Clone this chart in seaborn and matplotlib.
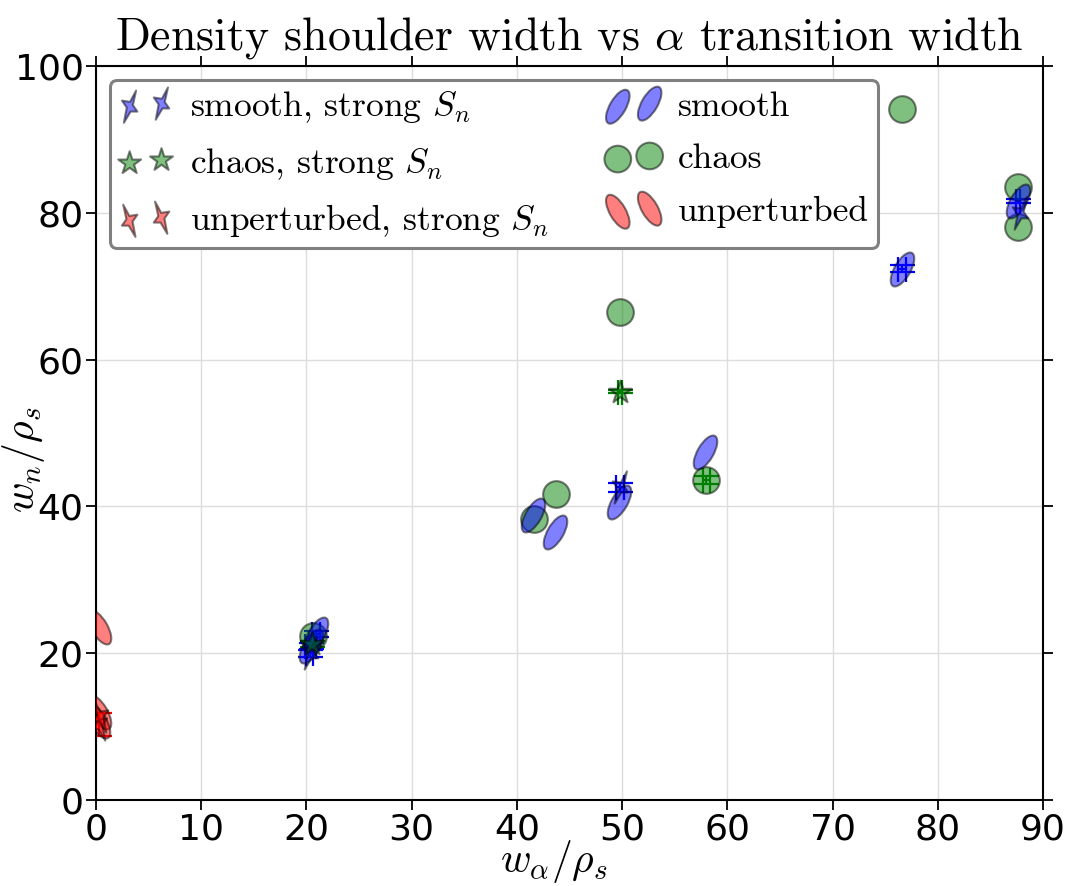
import numpy as np
import matplotlib
matplotlib.use("Agg")
import matplotlib.pyplot as plt
import matplotlib.path as mpath
import matplotlib.transforms as mtrans
import seaborn as sns

# ---- data: widths in units of rho_s (error 0 = no error bar) ----
smooth_x = [20.4, 20.9, 41.5, 43.6, 49.7, 57.9, 76.6, 87.6]
smooth_y = [21.0, 22.6, 38.8, 36.5, 40.6, 47.4, 72.4, 81.6]
smooth_xerr = [0.5, 0.4, 0.0, 0.0, 0.0, 0.0, 0.35, 0.2]
smooth_yerr = [0.4, 0.4, 0.0, 0.0, 0.0, 0.0, 0.5, 0.3]

chaos_x = [20.6, 41.6, 43.7, 49.8, 58.0, 76.6, 87.6, 87.6]
chaos_y = [22.3, 38.3, 41.7, 66.5, 43.6, 94.1, 83.5, 78.1]
chaos_xerr = [0.0, 0.0, 0.0, 0.0, 0.35, 0.0, 0.0, 0.0]
chaos_yerr = [0.0, 0.0, 0.0, 0.0, 0.55, 0.0, 0.0, 0.0]

unpert_x = [0.3, 0.3, 0.2]
unpert_y = [23.6, 12.0, 10.8]

smooth_strong_x = [20.3, 49.8, 87.8]
smooth_strong_y = [20.0, 42.6, 80.0]
smooth_strong_xerr = [0.3, 0.4, 0.0]
smooth_strong_yerr = [0.5, 0.6, 0.0]

chaos_strong_x = [20.5, 49.8]
chaos_strong_y = [21.3, 55.6]
chaos_strong_xerr = [0.3, 0.2]
chaos_strong_yerr = [0.4, 0.2]

unpert_strong_x = [0.3, 0.4]
unpert_strong_y = [10.3, 11.5]
unpert_strong_xerr = [0.0, 0.0]
unpert_strong_yerr = [1.6, 0.0]

xticks = [0, 10, 20, 30, 40, 50, 60, 70, 80, 90]
yticks = [0, 20, 40, 60, 80, 100]

BLUE, GREEN, RED = "#0000ff", "#008000", "#ff0000"

# ---- style ----
sns.set_theme(style="whitegrid")
plt.rcParams.update({
    "font.family": ["DejaVu Sans"],
    "mathtext.fontset": "cm",
    "text.color": "black",
    "axes.labelcolor": "black",
    "xtick.color": "black",
    "ytick.color": "black",
    "axes.edgecolor": "black",
    "axes.linewidth": 1.5,
    "grid.color": "#dddddd",
    "grid.linewidth": 1.0,
})


def ellipse_marker(angle):
    t = mtrans.Affine2D().scale(0.42, 1.0).rotate_deg(angle)
    return t.transform_path(mpath.Path.unit_circle())


def bolt_marker(mirror=False):
    v = np.array([(0.40, 1.0), (0.02, 0.30), (-0.48, 0.38), (-0.18, -0.05),
                  (-0.36, -1.0), (0.06, -0.30), (0.48, -0.30), (0.20, 0.10),
                  (0.40, 1.0)])
    if mirror:
        v[:, 0] *= -1
    codes = [mpath.Path.MOVETO] + [mpath.Path.LINETO] * (len(v) - 2) + [mpath.Path.CLOSEPOLY]
    return mpath.Path(v, codes)


def draw_errors(ax, x, y, xerr, yerr, color):
    """Error bars with caps, skipping components that are zero."""
    x, y, xerr, yerr = map(np.asarray, (x, y, xerr, yerr))
    kw = dict(fmt="none", ecolor=color, elinewidth=1.6, capsize=9, capthick=1.6, zorder=2.5)
    mx = xerr > 0
    if mx.any():
        ax.errorbar(x[mx], y[mx], xerr=xerr[mx], **kw)
    my = yerr > 0
    if my.any():
        ax.errorbar(x[my], y[my], yerr=yerr[my], **kw)


ell_smooth = ellipse_marker(-30)
ell_unpert = ellipse_marker(30)
bolt_smooth = bolt_marker(False)
bolt_unpert = bolt_marker(True)

fig = plt.figure(figsize=(10.74, 8.86), dpi=100)
ax = fig.add_axes([0.0894, 0.0971, 0.8817, 0.8284])

S_ELL, S_CIR, S_BOLT, S_STAR = 640, 370, 540, 300
common = dict(alpha=0.5, edgecolor="black", linewidth=1.5, ax=ax, legend=False)

# error bars
draw_errors(ax, chaos_x, chaos_y, chaos_xerr, chaos_yerr, GREEN)
draw_errors(ax, smooth_x, smooth_y, smooth_xerr, smooth_yerr, BLUE)
draw_errors(ax, smooth_strong_x, smooth_strong_y, smooth_strong_xerr, smooth_strong_yerr, BLUE)
draw_errors(ax, chaos_strong_x, chaos_strong_y, chaos_strong_xerr, chaos_strong_yerr, GREEN)
draw_errors(ax, unpert_strong_x, unpert_strong_y, unpert_strong_xerr, unpert_strong_yerr, RED)

# markers
sns.scatterplot(x=chaos_x, y=chaos_y, marker="o", s=S_CIR, color=GREEN, zorder=3, **common)
h_chaos = ax.collections[-1]
sns.scatterplot(x=smooth_x, y=smooth_y, marker=ell_smooth, s=S_ELL, color=BLUE, zorder=4, **common)
h_smooth = ax.collections[-1]
sns.scatterplot(x=unpert_x, y=unpert_y, marker=ell_unpert, s=S_ELL, color=RED, zorder=4, **common)
h_unpert = ax.collections[-1]
sns.scatterplot(x=smooth_strong_x, y=smooth_strong_y, marker=bolt_smooth, s=S_BOLT,
                color=BLUE, zorder=5, **common)
h_smooth_s = ax.collections[-1]
sns.scatterplot(x=chaos_strong_x, y=chaos_strong_y, marker="*", s=S_STAR, color=GREEN,
                zorder=5, **common)
h_chaos_s = ax.collections[-1]
sns.scatterplot(x=unpert_strong_x, y=unpert_strong_y, marker=bolt_unpert, s=S_BOLT,
                color=RED, zorder=5, **common)
h_unpert_s = ax.collections[-1]

ax.set_xlim(0, 90)
ax.set_ylim(0, 100)
ax.set_xticks(xticks)
ax.set_yticks(yticks)
ax.tick_params(axis="both", which="both", direction="out", length=7, width=1.3,
               labelsize=26, top=True, right=True, bottom=True, left=True,
               labeltop=False, labelright=False, pad=2, colors="black")
for sp in ax.spines.values():
    sp.set_color("black")
    sp.set_linewidth(1.5)
ax.grid(True, color="#dddddd", linewidth=1.0)

ax.set_title(r"Density shoulder width vs $\alpha$ transition width",
             fontfamily="cmr10", fontsize=33, pad=12, color="black")
ax.set_xlabel(r"$w_\alpha/\rho_s$", fontsize=30, color="black")
ax.xaxis.set_label_coords(0.483, -0.052)
ax.xaxis.label.set_va("top")
ax.set_ylabel(r"$w_n/\rho_s$", fontsize=30, color="black")
ax.yaxis.set_label_coords(-0.052, 0.463)

handles = [h_smooth_s, h_chaos_s, h_unpert_s, h_smooth, h_chaos, h_unpert]
labels = [r"smooth, strong $S_n$", r"chaos, strong $S_n$", r"unperturbed, strong $S_n$",
          "smooth", "chaos", "unperturbed"]
leg = ax.legend(handles, labels, loc="upper left", ncol=2, scatterpoints=2,
                prop={"family": "cmr10", "size": 25.5}, fancybox=True, frameon=True,
                borderaxespad=0.4, handletextpad=0.5, columnspacing=1.65,
                labelspacing=0.58, handlelength=1.5, framealpha=1.0, borderpad=0.25)
leg.get_frame().set_edgecolor("#808080")
leg.get_frame().set_linewidth(2.2)

fig.savefig("out.png", dpi=100)
